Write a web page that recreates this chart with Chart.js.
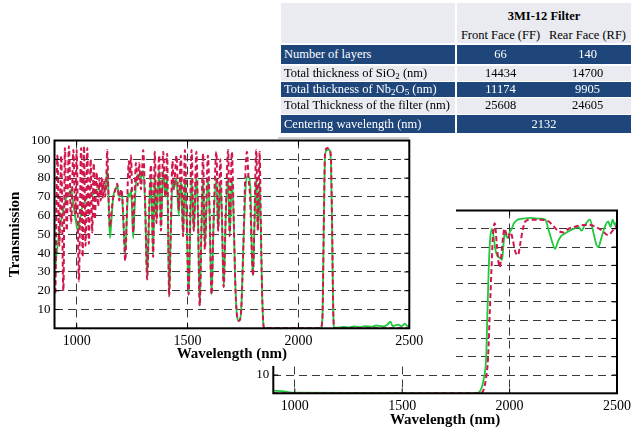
<!DOCTYPE html>
<html>
<head>
<meta charset="utf-8">
<script src="https://cdn.jsdelivr.net/npm/chart.js@4.4.0/dist/chart.umd.min.js"></script>
<style>
  html, body { margin: 0; padding: 0; background: #fff; }
  body { width: 636px; height: 429px; position: relative; overflow: hidden; font-family: 'Liberation Serif', serif; }
  #rearCanvas { position: absolute; left: 200px; top: 195px; z-index: 1; }
  #frontCanvas { position: absolute; left: 0; top: 128px; z-index: 2; background: #fff; }
  #table { position: absolute; left: 0; top: 0; z-index: 3; }
  .cell { position: absolute; box-sizing: border-box; font-size: 12.5px; line-height: 1; display: flex; align-items: center; white-space: nowrap; }
  .blue { background: #1f467b; color: #fff; }
  .grey { background: #e9ebf0; color: #000; }
  .center { justify-content: center; }
  sub { font-size: 9px; vertical-align: -2px; line-height: 0; }
  #edge { position: absolute; left: 278px; top: 137px; width: 131px; height: 2px; background: #cfcfcf; z-index: 3; }
</style>
</head>
<body>
<canvas id="rearCanvas" width="436" height="234"></canvas>
<canvas id="frontCanvas" width="456" height="238"></canvas>
<div id="table"></div>
<div id="edge"></div>
<script>
// ---- table ----
const tableTitle = '3MI-12 Filter';
const faceNames = ['Front Face (FF)', 'Rear Face (RF)'];
const rowLabels = [
  'Number of layers',
  'Total thickness of SiO<sub>2</sub> (nm)',
  'Total thickness of Nb<sub>2</sub>O<sub>5</sub> (nm)',
  'Total Thickness of the filter (nm)'
];
const frontFaceValues = ['66', '14434', '11174', '25608'];
const rearFaceValues = ['140', '14700', '9905', '24605'];
const centeringLabel = 'Centering wavelength (nm)';
const centeringWavelength = '2132';

// ---- spectra: front face (top chart) ----
const ffDesignWl = [900,903,913,922,930,940,947,955,965,975,985,994,1000,1010,1020,1027,1033,1040,1048,1055,
  1063,1070,1077,1082,1090,1097,1103,1108,1113,1118,1123,1128,1133,1138,1143,1150,1157,1165,1175,1183,
  1192,1202,1210,1219,1226,1230,1235,1240,1245,1250,1255,1261,1267,1275,1282,1290,1296,1300,1308,1318,
  1326,1335,1345,1352,1360,1366,1372,1380,1390,1400,1408,1412,1417,1424,1432,1438,1450,1460,1470,1480,
  1488,1496,1505,1511,1518,1528,1540,1547,1555,1562,1570,1578,1592,1600,1608,1618,1630,1638,1648,1655,
  1663,1672,1683,1690,1700,1708,1715,1722,1732,1742,1752,1760,1768,1775,1782,1790,1795,1802,1810,1817,
  1825,1830,1836,1842,1846,2100,2108,2115,2120,2130,2140,2146,2152,2157,2162,2500];
const ffDesignT = [30,18,92,44,92,20,96,52,97,56,95,61,95,25,96,38,97,44,96,45,
  90,51,88,58,83,65,80,68,80,69,79,70,78,95,72,54,62,70,74,77,
  68,74,60,36,60,76,89,80,92,70,51,70,88,76,88,74,86,95,70,26,
  60,87,38,94,56,75,92,52,94,70,93,60,17,50,89,74,92,63,92,49,
  95,60,18,55,95,52,94,60,12,50,93,42,92,60,18,60,94,52,90,60,
  22,60,95,49,94,60,25,8,4,10,45,80,94,80,70,40,28,60,95,52,
  94,60,20,2,0,0,5,60,93,96,95,92,55,10,0,0];

const ffMeasWl = [900,903,908,915,925,935,945,955,965,975,985,995,1005,1012,1020,1030,1040,1050,1060,1070,
  1080,1090,1100,1110,1120,1130,1138,1143,1150,1157,1165,1175,1183,1192,1198,1204,1210,1219,1226,1232,
  1240,1245,1250,1255,1262,1270,1280,1290,1300,1308,1318,1326,1335,1345,1352,1360,1372,1380,1390,1400,
  1408,1417,1424,1432,1440,1450,1460,1470,1480,1488,1496,1505,1512,1518,1528,1540,1547,1555,1562,1570,
  1578,1592,1600,1608,1618,1630,1638,1648,1655,1663,1672,1683,1690,1700,1708,1715,1722,1732,1742,1752,
  1762,1770,1778,1785,1790,1795,1802,1810,1817,1825,1830,1836,1842,1846,2100,2108,2115,2120,2130,2140,
  2146,2152,2157,2162,2175,2200,2230,2250,2280,2300,2330,2350,2380,2400,2415,2425,2450,2465,2480,2490,2500];
const ffMeasT = [42,32,38,45,55,60,66,70,72,74,66,58,52,55,62,66,68,70,70,71,
  72,74,74,72,76,74,85,72,48,58,70,74,76,70,73,72,58,40,58,72,
  70,74,62,48,66,80,82,80,84,68,28,58,80,40,82,58,84,54,84,70,
  82,17,48,78,75,80,60,80,50,80,58,18,52,80,52,82,60,12,48,80,
  44,80,58,18,58,80,52,78,58,22,58,80,50,80,58,25,8,4,10,45,
  75,81,80,70,40,28,55,80,52,78,55,20,2,0,0,5,60,92,95,95,
  90,50,8,0.5,0.3,0.8,0.5,1,0.6,1.2,0.8,1.5,1,1.8,3.5,1.2,2,1,2.5,1.2,1.5];

// ---- spectra: rear face (bottom chart) ----
const rfDesignWl = [900,1850,1872,1890,1900,1908,1916,1922,1931,1940,1948,1954,1962,1970,1976,1985,1992,2004,2015,2025,
  2039,2050,2062,2073,2100,2140,2181,2200,2225,2250,2275,2300,2340,2374,2400,2430,2459,2480,2500];
const rfDesignT = [0,0,0.5,8,20,45,69,85,93,82,72,69,76,86,90,87,85,88,84,78,
  75.6,82,90,94,95,95,94,92,89,88,90,91,92,92,91,89,86.5,89,92];

const rfMeasWl = [900,950,1000,1850,1857,1870,1880,1891,1897,1903,1910,1918,1925,1935,1945,1955,1965,1972,1979,1985,
  1992,2000,2010,2020,2038,2060,2100,2140,2166,2180,2195,2212,2225,2240,2258,2280,2300,2320,2335,2350,
  2374,2390,2405,2413,2425,2440,2459,2470,2480,2490,2500];
const rfMeasT = [1.5,1,0.3,0,0.5,3,8,20,45,69,85,90,86,78,75,74,73,82,89,86,
  85,88,90,93,95,95.5,96,95.5,95,90,84,79,83,86,87.4,89,90,91,89,92,
  95,88,81,80,84,90,94,91,95,92,94];

const waveTicks = [1000, 1500, 2000, 2500];
const transTicks = [10, 20, 30, 40, 50, 60, 70, 80, 90, 100];

const GREEN = '#1fc83c';
const RED = '#d0174c';

// build the table
const table = document.getElementById('table');
function cell(x, y, w, h, cls, html, extra) {
  const d = document.createElement('div');
  d.className = 'cell ' + cls;
  d.style.left = x + 'px'; d.style.top = y + 'px';
  d.style.width = w + 'px'; d.style.height = h + 'px';
  if (extra) Object.assign(d.style, extra);
  d.innerHTML = '<span>' + html + '</span>';
  table.appendChild(d);
}
cell(281, 3, 174, 40, 'grey', '');
cell(457, 3, 174, 40, 'grey', '');
cell(457, 8, 174, 16, 'center', '<b>' + tableTitle + '</b>');
cell(457, 27, 87, 16, 'center', faceNames[0]);
cell(544, 27, 87, 16, 'center', faceNames[1]);
const rowBoxes = [[45, 18.5, 'blue'], [65.5, 15, 'grey'], [81.5, 15.5, 'blue'], [97.5, 16, 'grey']];
rowLabels.forEach((lab, i) => {
  const [y, h, c] = rowBoxes[i];
  cell(281, y, 174, h, c, lab, { paddingLeft: '3px' });
  cell(457, y, 87, h, c + ' center', frontFaceValues[i]);
  cell(544, y, 87, h, c + ' center', rearFaceValues[i]);
});
cell(281, 115, 174, 18, 'blue', centeringLabel, { paddingLeft: '3px' });
cell(457, 115, 174, 18, 'blue center', centeringWavelength);

// frame + inward tick marks
const framePlugin = {
  id: 'frame',
  afterDatasetsDraw(chart) {
    const { ctx, chartArea: a, scales } = chart;
    ctx.save();
    ctx.strokeStyle = '#000';
    ctx.lineWidth = 1;
    ctx.beginPath();
    scales.x.ticks.forEach(t => {
      const px = scales.x.getPixelForValue(t.value);
      ctx.moveTo(px, a.bottom); ctx.lineTo(px, a.bottom - 5);
      ctx.moveTo(px, a.top); ctx.lineTo(px, a.top + 5);
    });
    scales.y.ticks.forEach(t => {
      const py = scales.y.getPixelForValue(t.value);
      ctx.moveTo(a.left, py); ctx.lineTo(a.left + 5, py);
      ctx.moveTo(a.right, py); ctx.lineTo(a.right - 5, py);
    });
    ctx.stroke();
    ctx.lineWidth = 2;
    ctx.strokeRect(a.left, a.top, a.right - a.left, a.bottom - a.top);
    ctx.restore();
  }
};

function toPoints(xs, ys) {
  return xs.map((x, i) => ({ x: x, y: ys[i] }));
}

function spectrumChart(canvas, box, measured, design) {
  const grid = { color: '#3a3a3a', lineWidth: 1, drawTicks: false };
  const border = { display: false, dash: [8, 5] };
  return new Chart(canvas, {
    type: 'line',
    data: {
      datasets: [{
        data: design,
        borderColor: RED,
        borderWidth: 2,
        borderDash: [5, 3],
        pointRadius: 0,
        cubicInterpolationMode: 'monotone',
        order: 1
      }, {
        data: measured,
        borderColor: GREEN,
        borderWidth: 1.8,
        pointRadius: 0,
        cubicInterpolationMode: 'monotone',
        order: 2
      }]
    },
    options: {
      responsive: false,
      animation: false,
      devicePixelRatio: 1,
      layout: { padding: { left: 0, top: box.top, right: box.right, bottom: 0 } },
      plugins: { legend: { display: false }, tooltip: { enabled: false } },
      scales: {
        x: {
          type: 'linear', min: 900, max: 2500,
          afterBuildTicks: s => { s.ticks = waveTicks.map(v => ({ value: v })); },
          afterFit: s => { s.height = box.xHeight; },
          grid: grid, border: border,
          ticks: { color: '#000', padding: 5, font: { size: 14 }, callback: v => String(v) },
          title: { display: true, text: 'Wavelength (nm)', color: '#000',
                   font: { size: 15, weight: 'bold' }, padding: { top: 0, bottom: box.xTitlePad } }
        },
        y: {
          min: 0, max: 100,
          afterBuildTicks: s => { s.ticks = transTicks.map(v => ({ value: v })); },
          afterFit: s => { s.width = box.left; },
          grid: grid, border: border,
          ticks: { color: '#000', padding: 4, font: { size: 13 }, callback: v => String(v) },
          title: { display: box.yTitle, text: 'Transmission', color: '#000',
                   font: { size: 15, weight: 'bold' }, padding: { top: 6.5, bottom: 0 } }
        }
      }
    },
    plugins: [framePlugin]
  });
}

Chart.defaults.font.family = "'Liberation Serif', 'Times New Roman', serif";

spectrumChart(document.getElementById('rearCanvas'),
  { left: 73.3, top: 15.5, right: 17.7, xHeight: 35.7, xTitlePad: 0, yTitle: false },
  toPoints(rfMeasWl, rfMeasT), toPoints(rfDesignWl, rfDesignT));

spectrumChart(document.getElementById('frontCanvas'),
  { left: 54.5, top: 12.5, right: 46.7, xHeight: 37.7, xTitlePad: 3, yTitle: true },
  toPoints(ffMeasWl, ffMeasT), toPoints(ffDesignWl, ffDesignT));
</script>
</body>
</html>
